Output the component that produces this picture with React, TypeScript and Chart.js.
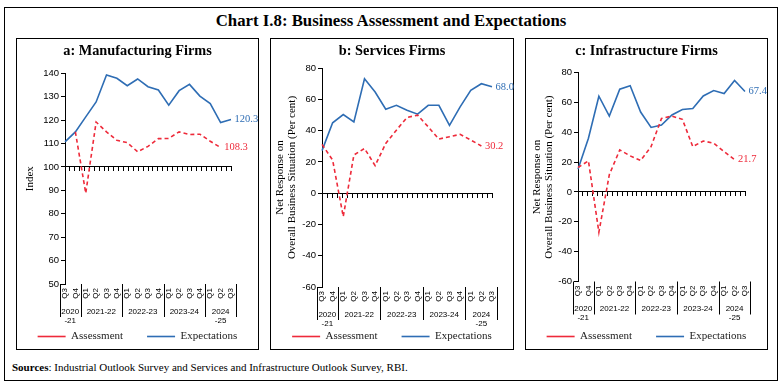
import React, { useEffect, useRef } from 'react';
import { Chart, registerables } from 'chart.js';

Chart.register(...registerables);

// ---------- Data ----------
const quarters = ['Q3', 'Q4', 'Q1', 'Q2', 'Q3', 'Q4', 'Q1', 'Q2', 'Q3', 'Q4', 'Q1', 'Q2', 'Q3', 'Q4', 'Q1', 'Q2', 'Q3'];
const yearGroups = [['2020', '-21'], ['2021-22'], ['2022-23'], ['2023-24'], ['2024', '-25']];
const yearGroupSizes = [2, 4, 4, 4, 3];

const mfgAssessment = [null, 115, 88.8, 119.2, 115, 111.4, 110.4, 106.5, 108.8, 112.1, 112.2, 115, 113.9, 114, 111.0, 108.3, null];
const mfgExpectations = [110.7, 115, 121.4, 127.8, 139.3, 137.9, 134.7, 137.6, 134.3, 132.9, 126.4, 132.6, 135.3, 130.3, 127.1, 119.0, 120.3];

const svcAssessment = [31.2, 21.2, -15, 24.4, 28.6, 17.6, 31.8, 40.3, 48.4, 49.9, 42.4, 34.6, 36.1, 37.6, 34.0, 30.2, null];
const svcExpectations = [27.2, 45, 50.3, 45.6, 73.2, 64.7, 53.7, 56.2, 53, 50.5, 56.2, 56.2, 43.3, 55.2, 65.8, 70, 68.0];

const infAssessment = [16.4, 20.9, -27, 11.6, 28.2, 24.2, 21.1, 30.4, 49.3, 50.9, 48.7, 30.4, 34.2, 32.7, 27.1, 21.7, null];
const infExpectations = [15.3, 36, 64.2, 50.9, 68.9, 71.3, 53.6, 43.3, 44.9, 51.6, 55.3, 56, 64.4, 68, 66, 74.7, 67.4];

const seriesNames = ['Assessment', 'Expectations'];

// ---------- Styles ----------
const SERIF = "'Liberation Serif', 'DejaVu Serif', serif";
const SANS = "'Liberation Sans', 'DejaVu Sans', sans-serif";
const RED = '#EE2A3A';
const BLUE = '#2E6DB4';

type PanelCfg = {
  left: number;
  width: number;
  title: string;
  yTitle: string | string[];
  assessment: (number | null)[];
  expectations: (number | null)[];
  min: number;
  max: number;
  step: number;
  baseline: number;
  titleBottom: number;
  xHeight: number;
  yWidth: number;
  rightWidth: number;
  yTitlePad: number;
};

const PANEL_TOP = 38;
const PANEL_HEIGHT = 312;
const CANVAS_HEIGHT = 313;
const BLEED = 10;

const panels: PanelCfg[] = [
  {
    left: 16, width: 243, title: 'a: Manufacturing Firms', yTitle: 'Index',
    assessment: mfgAssessment, expectations: mfgExpectations,
    min: 50, max: 140, step: 10, baseline: 100,
    titleBottom: 13.2, xHeight: 23, yWidth: 48, rightWidth: 27, yTitlePad: 6.7,
  },
  {
    left: 270, width: 244, title: 'b: Services Firms',
    yTitle: ['Net Response on', 'Overall Business Situation (Per cent)'],
    assessment: svcAssessment, expectations: svcExpectations,
    min: -60, max: 80, step: 20, baseline: 0,
    titleBottom: 7.9, xHeight: 20, yWidth: 51, rightWidth: 21, yTitlePad: 2.7,
  },
  {
    left: 525, width: 243, title: 'c: Infrastructure Firms',
    yTitle: ['Net Response on', 'Overall Business Situation (Per cent)'],
    assessment: infAssessment, expectations: infExpectations,
    min: -60, max: 80, step: 20, baseline: 0,
    titleBottom: 12.5, xHeight: 25.5, yWidth: 52, rightWidth: 22, yTitlePad: 4.7,
  },
];

const groupPlugin = {
  id: 'yearGroups',
  afterDraw(chart: any) {
    const ctx = chart.ctx;
    const xs = chart.scales.x;
    const area = chart.chartArea;
    ctx.save();
    ctx.strokeStyle = '#000';
    ctx.lineWidth = 1;
    let start = 0;
    const bounds = [0];
    yearGroupSizes.forEach((n) => { start += n; bounds.push(start); });
    bounds.forEach((b) => {
      const x = Math.round(xs.getPixelForValue(b - 0.5)) + 0.5;
      ctx.beginPath();
      ctx.moveTo(x, area.bottom);
      ctx.lineTo(x, area.bottom + 33);
      ctx.stroke();
    });
    ctx.fillStyle = '#000';
    ctx.font = `8px ${SANS}`;
    ctx.textAlign = 'center';
    ctx.textBaseline = 'middle';
    yearGroups.forEach((lines, i) => {
      const a = bounds[i];
      const bEnd = bounds[i + 1] - 1;
      const cx = (xs.getPixelForValue(a) + xs.getPixelForValue(bEnd)) / 2;
      lines.forEach((t, j) => {
        ctx.fillText(t, cx, area.bottom + 27.5 + j * 9.2);
      });
    });
    ctx.restore();
  },
};

const endLabelPlugin = {
  id: 'endLabels',
  afterDatasetsDraw(chart: any) {
    const ctx = chart.ctx;
    const xs = chart.scales.x;
    const ys = chart.scales.y;
    ctx.save();
    ctx.font = `10.5px ${SERIF}`;
    ctx.textAlign = 'left';
    ctx.textBaseline = 'middle';
    chart.data.datasets.forEach((ds: any) => {
      let idx = -1;
      ds.data.forEach((v: any, i: number) => { if (v !== null && v !== undefined) idx = i; });
      if (idx < 0) return;
      const v = ds.data[idx];
      ctx.fillStyle = ds.borderColor;
      ctx.fillText(v.toFixed(1), xs.getPixelForValue(idx) + 3.5, ys.getPixelForValue(v));
    });
    ctx.restore();
  },
};

function Panel({ cfg }: { cfg: PanelCfg }) {
  const ref = useRef<HTMLCanvasElement | null>(null);
  useEffect(() => {
    if (!ref.current) return;
    const chart = new Chart(ref.current, {
      type: 'line',
      data: {
        labels: quarters,
        datasets: [
          {
            label: seriesNames[0],
            data: cfg.assessment,
            borderColor: RED,
            backgroundColor: RED,
            borderWidth: 1.6,
            borderDash: [4, 3],
            pointRadius: 0,
            tension: 0,
          },
          {
            label: seriesNames[1],
            data: cfg.expectations,
            borderColor: BLUE,
            backgroundColor: BLUE,
            borderWidth: 1.6,
            pointRadius: 0,
            tension: 0,
          },
        ],
      },
      options: {
        responsive: false,
        animation: false,
        devicePixelRatio: 1,
        layout: { padding: 0 },
        plugins: {
          title: {
            display: true,
            text: cfg.title,
            color: '#000',
            font: { family: SERIF, size: 14.3, weight: 'bold', lineHeight: 1.2 },
            padding: { top: 4, bottom: cfg.titleBottom },
          },
          legend: {
            position: 'bottom',
            labels: {
              usePointStyle: true,
              pointStyle: 'line',
              pointStyleWidth: 28,
              padding: 24,
              color: '#222',
              font: { family: SERIF, size: 11 },
            },
          },
          tooltip: { enabled: false },
        },
        scales: {
          x: {
            type: 'category',
            position: 'bottom',
            grid: { display: false, drawTicks: false },
            border: { display: false },
            ticks: {
              autoSkip: false,
              maxRotation: 90,
              minRotation: 90,
              padding: 4,
              color: '#000',
              font: { family: SANS, size: 8 },
            },
            afterFit: (s: any) => { s.height = cfg.xHeight; },
          },
          x2: {
            type: 'linear',
            axis: 'x',
            position: { y: cfg.baseline },
            min: -0.5,
            max: 16.5,
            ticks: { display: false, stepSize: 0.5, autoSkip: false },
            grid: { drawOnChartArea: false, drawTicks: true, tickLength: 4, color: '#000' },
            border: { display: true, color: '#000', width: 1 },
          },
          y: {
            type: 'linear',
            position: 'left',
            min: cfg.min,
            max: cfg.max,
            ticks: { stepSize: cfg.step, padding: 2, color: '#000', font: { family: SANS, size: 9.5 } },
            grid: { drawOnChartArea: false, tickLength: 4, color: '#000' },
            border: { display: true, color: '#000', width: 1 },
            title: {
              display: true,
              text: cfg.yTitle,
              color: '#000',
              font: { family: SERIF, size: 11, lineHeight: 1.14 },
              padding: { top: cfg.yTitlePad + BLEED, bottom: 0 },
            },
            afterFit: (s: any) => { s.width = cfg.yWidth + BLEED; },
          },
          yR: {
            type: 'linear',
            axis: 'y',
            position: 'right',
            display: true,
            grid: { display: false },
            border: { display: false },
            ticks: { display: false },
            afterFit: (s: any) => { s.width = cfg.rightWidth + BLEED; },
          },
        },
      } as any,
      plugins: [groupPlugin, endLabelPlugin],
    });
    return () => chart.destroy();
  }, [cfg]);

  const cw = cfg.width - 2 + 2 * BLEED;
  return (
    <>
      <div
        style={{
          position: 'absolute',
          left: cfg.left,
          top: PANEL_TOP,
          width: cfg.width,
          height: PANEL_HEIGHT,
          border: '1px solid #000',
          boxSizing: 'border-box',
        }}
      />
      <canvas
        ref={ref}
        width={cw}
        height={CANVAS_HEIGHT}
        style={{ position: 'absolute', left: cfg.left + 1 - BLEED, top: PANEL_TOP + 1, width: cw, height: CANVAS_HEIGHT }}
      />
    </>
  );
}

export default function App() {
  return (
    <div style={{ position: 'absolute', left: 0, top: 0, width: 784, height: 386, background: '#fff', overflow: 'hidden' }}>
      <div
        style={{
          position: 'absolute', left: 4, top: 7, width: 774, height: 374,
          border: '1px solid #000', boxSizing: 'border-box',
        }}
      />
      <div
        style={{
          position: 'absolute', left: 4, top: 11, width: 774, textAlign: 'center',
          fontFamily: SERIF, fontWeight: 'bold', fontSize: 16.8, lineHeight: '20px', color: '#000',
        }}
      >
        Chart I.8: Business Assessment and Expectations
      </div>
      {panels.map((p) => <Panel key={p.title} cfg={p} />)}
      <div
        style={{
          position: 'absolute', left: 12, top: 360, fontFamily: SERIF, fontSize: 11,
          lineHeight: '14px', color: '#000', whiteSpace: 'nowrap',
        }}
      >
        <b>Sources</b>: Industrial Outlook Survey and Services and Infrastructure Outlook Survey, RBI.
      </div>
    </div>
  );
}
